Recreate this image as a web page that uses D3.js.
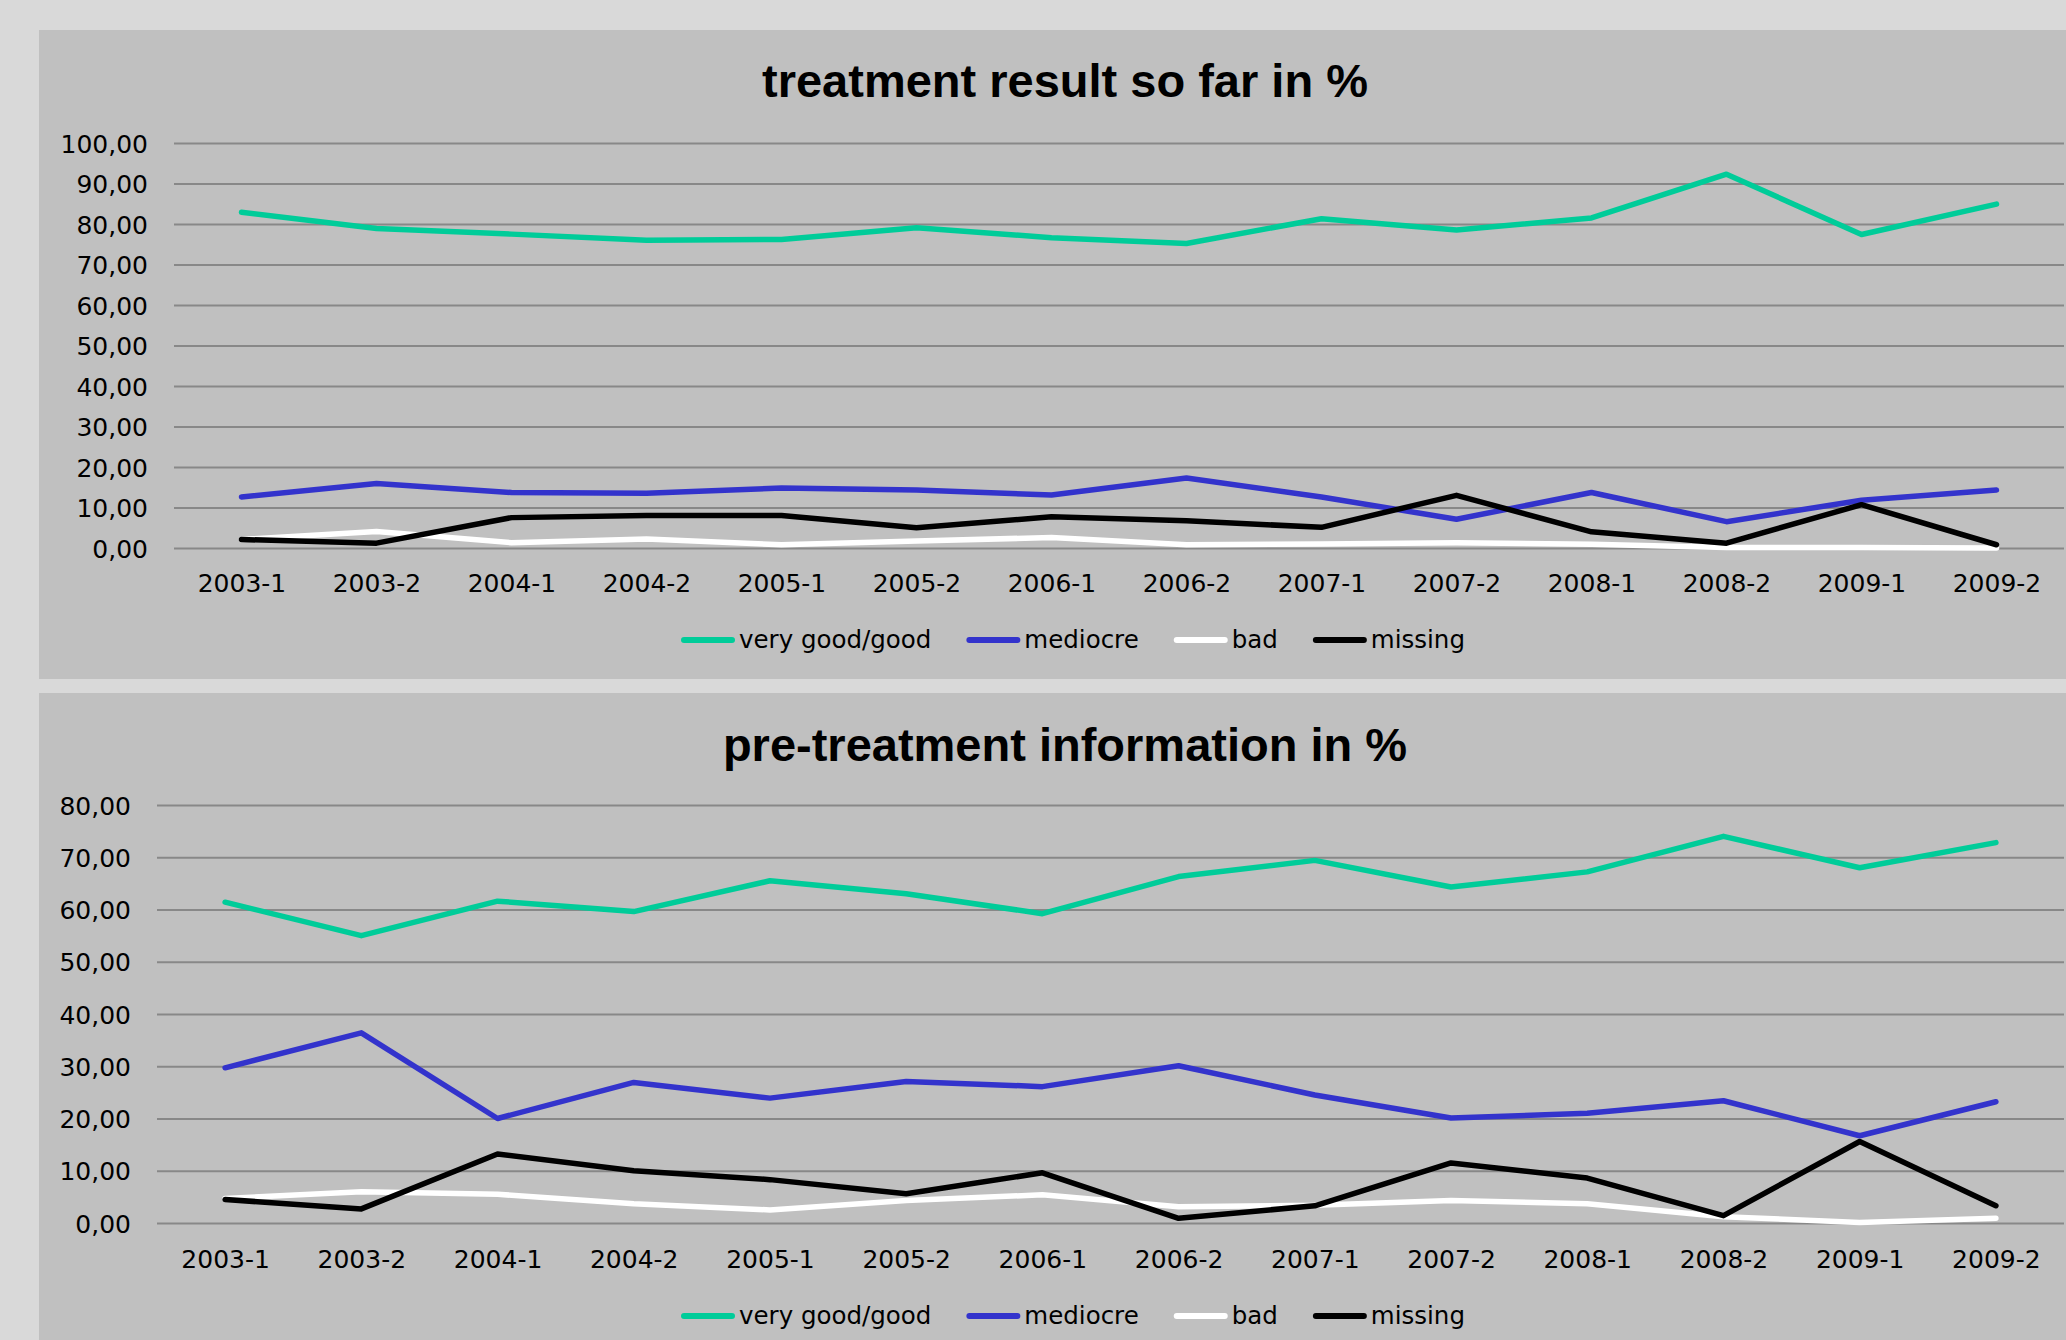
<!DOCTYPE html>
<html>
<head>
<meta charset="utf-8">
<script src="https://cdn.jsdelivr.net/npm/d3@7"></script>
<style>
  body { margin: 0; background: #d9d9d9; }
  svg { display: block; }
  .tick text { font-family: "DejaVu Sans", sans-serif; font-size: 25px; fill: #000; }
  .title { font-family: "Liberation Sans", Arial, sans-serif; font-weight: bold; font-size: 47px; }
  .legend text { font-family: "DejaVu Sans", sans-serif; font-size: 24.5px; }
</style>
</head>
<body>
<svg id="chart"></svg>
<script>
const periods = ['2003-1', '2003-2', '2004-1', '2004-2', '2005-1', '2005-2', '2006-1',
  '2006-2', '2007-1', '2007-2', '2008-1', '2008-2', '2009-1', '2009-2'];

const seriesNames = ['very good/good', 'mediocre', 'bad', 'missing'];
const seriesColors = ['#00cc99', '#3333cc', '#ffffff', '#000000'];

// treatment result so far in %
const resultGood     = [82.9, 78.9, 77.5, 76.0, 76.2, 79.1, 76.6, 75.2, 81.3, 78.5, 81.5, 92.3, 77.4, 84.9];
const resultMediocre = [12.6, 15.9, 13.7, 13.5, 14.8, 14.3, 13.1, 17.3, 12.6, 7.1, 13.7, 6.5, 11.8, 14.3];
const resultBad      = [2.1, 4.1, 1.3, 2.2, 0.8, 1.7, 2.6, 0.8, 1.0, 1.3, 0.9, 0.1, 0.1, 0.0];
const resultMissing  = [2.1, 1.2, 7.5, 8.0, 8.0, 5.0, 7.7, 6.7, 5.1, 13.0, 4.0, 1.2, 10.7, 0.8];
const resultTicks    = [0, 10, 20, 30, 40, 50, 60, 70, 80, 90, 100];

// pre-treatment information in %
const infoGood     = [61.4, 55.0, 61.6, 59.6, 65.5, 63.0, 59.2, 66.3, 69.4, 64.3, 67.2, 74.0, 68.0, 72.8];
const infoMediocre = [29.7, 36.4, 20.0, 26.9, 23.9, 27.1, 26.1, 30.1, 24.5, 20.1, 21.0, 23.4, 16.7, 23.2];
const infoBad      = [4.7, 6.0, 5.5, 3.7, 2.5, 4.3, 5.4, 3.1, 3.4, 4.3, 3.7, 1.2, 0.1, 0.9];
const infoMissing  = [4.5, 2.7, 13.2, 10.0, 8.3, 5.6, 9.6, 0.9, 3.3, 11.5, 8.6, 1.4, 15.6, 3.3];
const infoTicks    = [0, 10, 20, 30, 40, 50, 60, 70, 80];

let svg = d3.select('#chart')
  .attr('width', 2066)
  .attr('height', 1340);

let locale = d3.formatLocale({decimal: ',', thousands: '.', grouping: [3], currency: ['', '']});
let fmt = locale.format('.2f');

function drawChart(config) {
  let g = svg.append('g');

  g.append('rect')
    .attr('x', config.panel.x)
    .attr('y', config.panel.y)
    .attr('width', config.panel.w)
    .attr('height', config.panel.h)
    .attr('fill', '#c0c0c0');

  g.append('text')
    .attr('class', 'title')
    .attr('x', 1065)
    .attr('y', config.titleY)
    .attr('text-anchor', 'middle')
    .text(config.title);

  let xScale = d3.scalePoint()
    .domain(periods)
    .range([config.left, config.right])
    .padding(0.5);
  let yScale = d3.scaleLinear()
    .domain([0, d3.max(config.ticks)])
    .range([config.zero, config.top]);

  // gridlines + y labels
  let yAxis = g.append('g')
    .attr('transform', `translate(${config.left},0)`)
    .call(d3.axisLeft(yScale)
      .tickValues(config.ticks)
      .tickFormat(fmt)
      .tickSize(-(config.right - config.left))
      .tickPadding(26));
  yAxis.select('.domain').remove();
  yAxis.selectAll('.tick line')
    .attr('stroke', '#888888')
    .attr('stroke-width', 2);
  yAxis.selectAll('.tick text').attr('dy', '0.36em');

  let xAxis = g.append('g')
    .attr('transform', `translate(0,${config.zero})`)
    .call(d3.axisBottom(xScale).tickSize(0).tickPadding(config.xPad));
  xAxis.select('.domain').remove();

  let line = d3.line()
    .x((d, i) => xScale(periods[i]))
    .y(d => yScale(d));

  config.series.forEach((values, i) => {
    g.append('path')
      .datum(values)
      .attr('d', line)
      .attr('fill', 'none')
      .attr('stroke', seriesColors[i])
      .attr('stroke-width', 5.5)
      .attr('stroke-linejoin', 'round')
      .attr('stroke-linecap', 'round');
  });

  // legend
  let legend = g.append('g').attr('class', 'legend');
  let lx = 681;
  seriesNames.forEach((name, i) => {
    legend.append('line')
      .attr('x1', lx + 3)
      .attr('x2', lx + 51)
      .attr('y1', config.legendY)
      .attr('y2', config.legendY)
      .attr('stroke', seriesColors[i])
      .attr('stroke-width', 6)
      .attr('stroke-linecap', 'round');
    let t = legend.append('text')
      .attr('x', lx + 58)
      .attr('y', config.legendY + 8)
      .text(name);
    lx += 58 + t.node().getComputedTextLength() + 35;
  });
}

drawChart({
  panel: {x: 39, y: 30, w: 2027, h: 649},
  title: 'treatment result so far in %',
  titleY: 97,
  left: 174, right: 2064,
  top: 143, zero: 548,
  ticks: resultTicks,
  xPad: 26,
  legendY: 640,
  series: [resultGood, resultMediocre, resultBad, resultMissing]
});

drawChart({
  panel: {x: 39, y: 693, w: 2027, h: 647},
  title: 'pre-treatment information in %',
  titleY: 761,
  left: 157, right: 2064,
  top: 805, zero: 1223,
  ticks: infoTicks,
  xPad: 27,
  legendY: 1316,
  series: [infoGood, infoMediocre, infoBad, infoMissing]
});
</script>
</body>
</html>
